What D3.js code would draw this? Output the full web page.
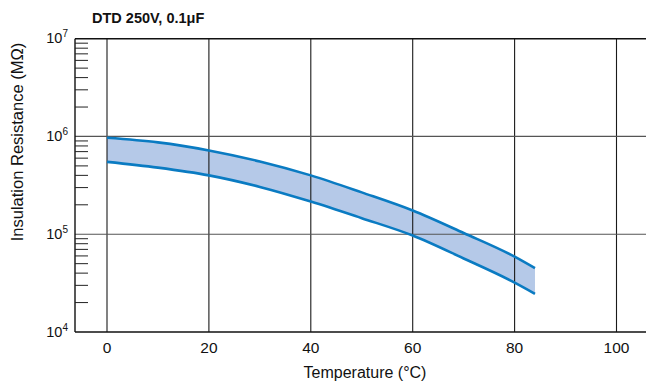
<!DOCTYPE html>
<html>
<head>
<meta charset="utf-8">
<script src="https://cdn.jsdelivr.net/npm/d3@7"></script>
<style>
  body { margin: 0; background: #fff; }
  svg { font-family: "Liberation Sans", Arial, sans-serif; }
</style>
</head>
<body>
<div id="chart"></div>
<script>
// --------- DATA ---------
const temps = [0, 10, 20, 30, 40, 50, 60, 70, 80, 84];
const irUpper = [970000, 870000, 720000, 555000, 400000, 268000, 175000, 103000, 59000, 45000];
const irLower = [550000, 480000, 400000, 305000, 216000, 146000, 97000, 56500, 32000, 24600];
const xTicks = [0, 20, 40, 60, 80, 100];
const yDecades = [4, 5, 6, 7];

const W = 646, H = 385;

let svg = d3.select("#chart")
    .append("svg")
    .attr("width", W)
    .attr("height", H);

let xScale = d3.scaleLinear().domain([0, 100]).range([107, 616.5]);
let yScale = d3.scaleLog().domain([1e4, 1e7]).range([332, 38.7]);

const plotLeft = 75, plotRight = W;
const plotTop = yScale(1e7), plotBottom = yScale(1e4);

// Band between the two limit curves
let band = d3.area()
    .x((d, i) => xScale(temps[i]))
    .y0((d, i) => yScale(irLower[i]))
    .y1((d, i) => yScale(irUpper[i]))
    .curve(d3.curveMonotoneX);

svg.append("path")
    .attr("fill", "#b5c9e8")
    .attr("d", band(temps));

// Gridlines
svg.append("g")
    .selectAll("line")
    .data(xTicks)
    .join("line")
    .attr("x1", d => xScale(d)).attr("x2", d => xScale(d))
    .attr("y1", plotTop).attr("y2", plotBottom)
    .attr("stroke", "#1a1a1a")
    .attr("stroke-width", 1.1);

svg.append("g")
    .selectAll("line")
    .data([5, 6])
    .join("line")
    .attr("x1", plotLeft).attr("x2", plotRight)
    .attr("y1", d => yScale(Math.pow(10, d))).attr("y2", d => yScale(Math.pow(10, d)))
    .attr("stroke", "#555")
    .attr("stroke-width", 1.2);

// Frame: top, bottom, left axis
svg.append("line")
    .attr("x1", plotLeft).attr("x2", plotRight).attr("y1", plotTop).attr("y2", plotTop)
    .attr("stroke", "#111").attr("stroke-width", 1.4);
svg.append("line")
    .attr("x1", plotLeft).attr("x2", plotRight).attr("y1", plotBottom).attr("y2", plotBottom)
    .attr("stroke", "#111").attr("stroke-width", 1.4);
svg.append("line")
    .attr("x1", plotLeft).attr("x2", plotLeft).attr("y1", plotTop).attr("y2", plotBottom)
    .attr("stroke", "#111").attr("stroke-width", 1.4);

// Minor log ticks
let minor = [];
[4, 5, 6].forEach(e => {
    for (let m = 2; m <= 9; m++) minor.push(m * Math.pow(10, e));
});
svg.append("g")
    .selectAll("line")
    .data(minor)
    .join("line")
    .attr("x1", plotLeft).attr("x2", plotLeft + 13)
    .attr("y1", d => yScale(d)).attr("y2", d => yScale(d))
    .attr("stroke", "#222")
    .attr("stroke-width", 1);

// Curves
let line = d3.line()
    .x((d, i) => xScale(temps[i]))
    .curve(d3.curveMonotoneX);

[irUpper, irLower].forEach(vals => {
    svg.append("path")
        .attr("fill", "none")
        .attr("stroke", "#0a7bc2")
        .attr("stroke-width", 2.6)
        .attr("d", line.y((d, i) => yScale(vals[i]))(temps));
});

// Y tick labels (10^n)
let yLab = svg.append("g")
    .selectAll("text")
    .data(yDecades)
    .join("text")
    .attr("x", 68)
    .attr("y", d => yScale(Math.pow(10, d)) + 4.5)
    .attr("text-anchor", "end")
    .attr("font-size", 14.5)
    .attr("fill", "#111");
yLab.append("tspan").text("10");
yLab.append("tspan")
    .attr("font-size", 10)
    .attr("dy", -6)
    .text(d => d);

// X tick labels
svg.append("g")
    .selectAll("text")
    .data(xTicks)
    .join("text")
    .attr("x", d => xScale(d))
    .attr("y", 353)
    .attr("text-anchor", "middle")
    .attr("font-size", 15.5)
    .attr("fill", "#111")
    .text(d => d);

// Titles
svg.append("text")
    .attr("x", 365)
    .attr("y", 378)
    .attr("text-anchor", "middle")
    .attr("font-size", 16)
    .attr("fill", "#111")
    .text("Temperature (°C)");

svg.append("text")
    .attr("transform", "translate(23,142) rotate(-90)")
    .attr("text-anchor", "middle")
    .attr("font-size", 16.5)
    .attr("fill", "#111")
    .text("Insulation Resistance (MΩ)");

svg.append("text")
    .attr("x", 92)
    .attr("y", 23)
    .attr("font-size", 14.5)
    .attr("font-weight", "bold")
    .attr("fill", "#111")
    .text("DTD 250V, 0.1μF");
</script>
</body>
</html>
